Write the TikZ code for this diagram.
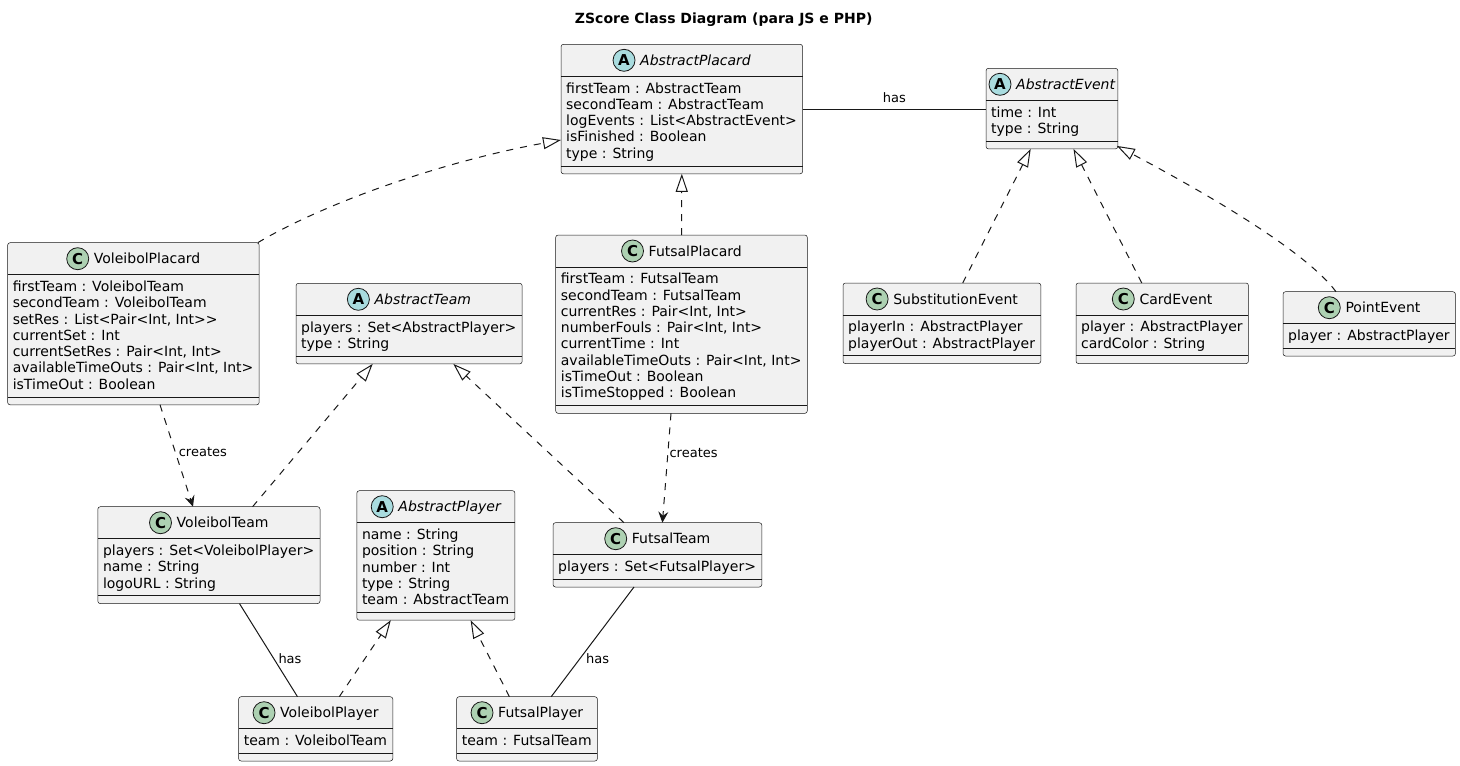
\documentclass[tikz,border=0pt]{standalone}
\usepackage{fontspec}
\setmainfont{DejaVu Sans}
\usetikzlibrary{arrows.meta,calc}
\definecolor{boxfill}{HTML}{F1F1F1}
\definecolor{boxline}{HTML}{181818}
\definecolor{cicon}{HTML}{ADD1B2}
\definecolor{aicon}{HTML}{A9DCDF}
\newcommand\attrfont{\fontsize{14}{16.3}\selectfont}
\newlength\clsAttrW
\newlength\clsTitleW
% #1 name, #2 left, #3 top, #4 icon letter, #5 icon colour, #6 title, #7 attribute lines, #8 attributes
\newcommand\umlclass[8]{%
  \pgfinterruptpicture%
    \settowidth\clsAttrW{\normalfont\attrfont\begin{tabular}{@{}l@{}}#8\end{tabular}}%
    \global\clsAttrW=\clsAttrW
    \settowidth\clsTitleW{\normalfont\attrfont #6}%
    \global\clsTitleW=\clsTitleW
  \endpgfinterruptpicture%
  \pgfmathsetmacro\clsW{max(\clsAttrW+11,\clsTitleW+33)}%
  \pgfmathsetmacro\clsH{48+#7*16.3}%
  \pgfmathsetmacro\clsHoff{-(27+\clsTitleW)/2}%
  \node[classbox, minimum width=\clsW pt, minimum height=\clsH pt, anchor=north west] (#1) at (#2,#3) {};
  \draw[sepline] ([yshift=-32pt]#1.north west) -- ([yshift=-32pt]#1.north east);
  \draw[sepline] ([yshift=8pt]#1.south west) -- ([yshift=8pt]#1.south east);
  \node[iconcircle, fill=#5] (#1-icon) at ([xshift=\clsHoff pt+11pt, yshift=-16pt]#1.north) {#4};
  \node[titletext] (#1-title) at ([xshift=\clsHoff pt+27pt, yshift=-21pt]#1.north) {#6};
  \node[attrtext] (#1-attrs) at ([xshift=5pt, yshift=-35.5pt]#1.north west) {\rule{0pt}{13pt}#8};
}
\tikzset{
  classbox/.style={draw=boxline, line width=0.5pt, fill=boxfill, rounded corners=2.5pt, inner sep=0pt, outer sep=0pt},
  sepline/.style={draw=boxline, line width=0.5pt},
  iconcircle/.style={circle, draw=boxline, line width=0.8pt, minimum size=22pt, inner sep=0pt, font=\fontsize{15}{15}\selectfont\bfseries},
  titletext/.style={anchor=base west, inner sep=0pt, font=\attrfont},
  attrtext/.style={anchor=north west, align=left, inner sep=0pt, font=\attrfont},
  realize/.style={draw=boxline, line width=1pt, dash pattern=on 7pt off 7pt, -{Triangle[open, length=18pt, width=12pt]}},
  depend/.style={draw=boxline, line width=1pt, dash pattern=on 7pt off 7pt, -{Stealth[length=11pt, width=10pt, inset=4pt]}},
  assoc/.style={draw=boxline, line width=1pt},
  lbl/.style={inner sep=0pt, font=\fontsize{13}{15}\selectfont}
}
\begin{document}
\begin{tikzpicture}[x=1pt, y=-1pt]
\fill[white] (0,0) rectangle (1460,766);
\useasboundingbox (0,0) rectangle (1460,766);
\node[anchor=base, inner sep=0pt, font=\fontsize{14}{16}\selectfont\bfseries] (title) at (723.7,23.3) {ZScore Class Diagram (para JS e PHP)};

\umlclass{AP}{561}{44.3}{A}{aicon}{\itshape AbstractPlacard}{5}{firstTeam : AbstractTeam\\secondTeam : AbstractTeam\\logEvents : List<AbstractEvent>\\isFinished : Boolean\\type : String}
\umlclass{AE}{986}{68.3}{A}{aicon}{\itshape AbstractEvent}{2}{time : Int\\type : String}
\umlclass{VPc}{7.6}{242.7}{C}{cicon}{VoleibolPlacard}{7}{firstTeam : VoleibolTeam\\secondTeam : VoleibolTeam\\setRes : List<Pair<Int, Int>{}>\\currentSet : Int\\currentSetRes : Pair<Int, Int>\\availableTimeOuts : Pair<Int, Int>\\isTimeOut : Boolean}
\umlclass{AT}{296}{283.3}{A}{aicon}{\itshape AbstractTeam}{2}{players : Set<AbstractPlayer>\\type : String}
\umlclass{FPc}{555.7}{235}{C}{cicon}{FutsalPlacard}{8}{firstTeam : FutsalTeam\\secondTeam : FutsalTeam\\currentRes : Pair<Int, Int>\\numberFouls : Pair<Int, Int>\\currentTime : Int\\availableTimeOuts : Pair<Int, Int>\\isTimeOut : Boolean\\isTimeStopped : Boolean}
\umlclass{SE}{843}{283}{C}{cicon}{SubstitutionEvent}{2}{playerIn : AbstractPlayer\\playerOut : AbstractPlayer}
\umlclass{CE}{1076}{283}{C}{cicon}{CardEvent}{2}{player : AbstractPlayer\\cardColor : String}
\umlclass{PE}{1283}{291.7}{C}{cicon}{PointEvent}{1}{player : AbstractPlayer}
\umlclass{VT}{97.8}{506.7}{C}{cicon}{VoleibolTeam}{3}{players : Set<VoleibolPlayer>\\name : String\\logoURL : String}
\umlclass{APl}{356.8}{490.7}{A}{aicon}{\itshape AbstractPlayer}{5}{name : String\\position : String\\number : Int\\type : String\\team : AbstractTeam}
\umlclass{FT}{553}{522.7}{C}{cicon}{FutsalTeam}{1}{players : Set<FutsalPlayer>}
\umlclass{VPl}{238.6}{696.7}{C}{cicon}{VoleibolPlayer}{1}{team : VoleibolTeam}
\umlclass{FPl}{456.6}{696.7}{C}{cicon}{FutsalPlayer}{1}{team : FutsalTeam}

% connectors
\draw[assoc] ([yshift=-64.7pt]AP.north east) -- node[lbl, anchor=base, yshift=6.7pt] (lhas1) {has} ([yshift=-40.7pt]AE.north west);
\draw[realize] ([xshift=-1.5pt]VPc.north east) .. controls (330,200) and (450,160) .. ([yshift=-95.7pt]AP.north west);
\draw[realize] (FPc.north) -- (AP.south);
\draw[realize] ([xshift=20.8pt]SE.north) -- ([xshift=44.7pt]AE.south west);
\draw[realize] ([xshift=65.8pt]CE.north west) -- ([xshift=87.5pt]AE.south west);
\draw[realize] ([xshift=53pt]PE.north west) .. controls (1305,250) and (1200,190) .. ([xshift=-1pt,yshift=3pt]AE.south east);
\draw[depend] ([xshift=152.4pt]VPc.south west) -- node[lbl, pos=0.51, anchor=base west, xshift=1.5pt] (lcr1) {creates} ([xshift=95.2pt]VT.north west);
\draw[depend] ([xshift=115.3pt]FPc.south west) -- node[lbl, pos=0.4, anchor=base west, xshift=1.5pt] (lcr2) {creates} ([xshift=109.4pt]FT.north west);
\draw[realize] ([xshift=154.8pt]VT.north west) -- ([xshift=76.7pt]AT.south west);
\draw[realize] ([xshift=71pt]FT.north west) -- ([xshift=157.3pt]AT.south west);
\draw[assoc] ([xshift=141.7pt]VT.south west) -- node[lbl, pos=0.638, anchor=base west, xshift=1.5pt] (lhas2) {has} ([xshift=58.9pt]VPl.north west);
\draw[assoc] ([xshift=81pt]FT.south west) -- node[lbl, pos=0.693, anchor=base west, xshift=9pt] (lhas3) {has} ([xshift=94.6pt]FPl.north west);
\draw[realize] ([xshift=100.7pt]VPl.north west) -- ([xshift=34pt]APl.south west);
\draw[realize] ([xshift=52.8pt]FPl.north west) -- ([xshift=113.8pt]APl.south west);
\end{tikzpicture}
\end{document}
